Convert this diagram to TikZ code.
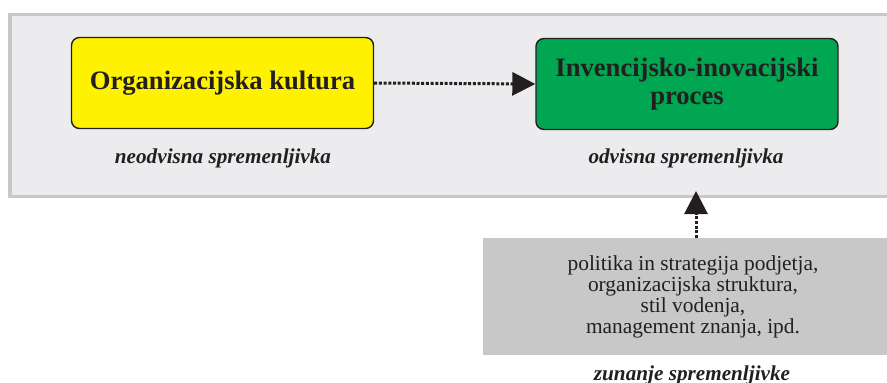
\documentclass[tikz,border=0pt]{standalone}
\usepackage{fontspec}
\setmainfont{Liberation Serif}
\usetikzlibrary{arrows.meta}
\definecolor{panelfill}{HTML}{ECECEE}
\definecolor{panelline}{HTML}{C8C8CA}
\definecolor{graybox}{HTML}{C8C8C9}
\definecolor{ink}{HTML}{231F20}
\definecolor{yel}{HTML}{FFF200}
\definecolor{grn}{HTML}{00A651}
\tikzset{
  mainbox/.style={draw=ink, line width=1.4pt, rounded corners=8pt, minimum width=302pt, minimum height=91pt, inner sep=0pt, text=ink, font=\bfseries\fontsize{26.6}{28}\selectfont, align=center},
  varlabel/.style={text=ink, font=\bfseries\itshape\fontsize{21.2}{24}\selectfont, inner sep=0pt},
  dotarrow/.style={ink, line width=3pt, dash pattern=on 3pt off 1.7pt, -{Triangle[length=23pt,width=23pt]}},
}
\begin{document}
\begin{tikzpicture}[x=1pt,y=-1pt]
\useasboundingbox (0,0) rectangle (887,383);
\clip (0,0) rectangle (887,383);
\node[draw=panelline, fill=panelfill, line width=3.5pt, minimum width=900pt, minimum height=182pt, inner sep=0pt, anchor=north west] (panel) at (8,12.5) {};
\node[mainbox, fill=yel] (org) at (222.5,83) {Organizacijska kultura};
\node[mainbox, fill=grn] (inv) at (687,84) {Invencijsko-inovacijski\\proces};
\node[varlabel] (l1) at (223,158) {neodvisna spremenljivka};
\node[varlabel] (l2) at (686,158) {odvisna spremenljivka};
\node[fill=graybox, minimum width=420pt, minimum height=117pt, inner sep=0pt, anchor=north west] (ext) at (483,238) {};
\node[text=ink, align=center, font=\fontsize{21.4}{21}\selectfont, inner sep=0pt] (exttext) at (693,297) {politika in strategija podjetja,\\organizacijska struktura,\\stil vodenja,\\management znanja, ipd.};
\node[varlabel] (l3) at (692,375) {zunanje spremenljivke};
\coordinate (tip) at (696,191);
\draw[dotarrow] (org.east) -- (inv.west);
\draw[dotarrow] (696,238) -- (tip);
\end{tikzpicture}
\end{document}
